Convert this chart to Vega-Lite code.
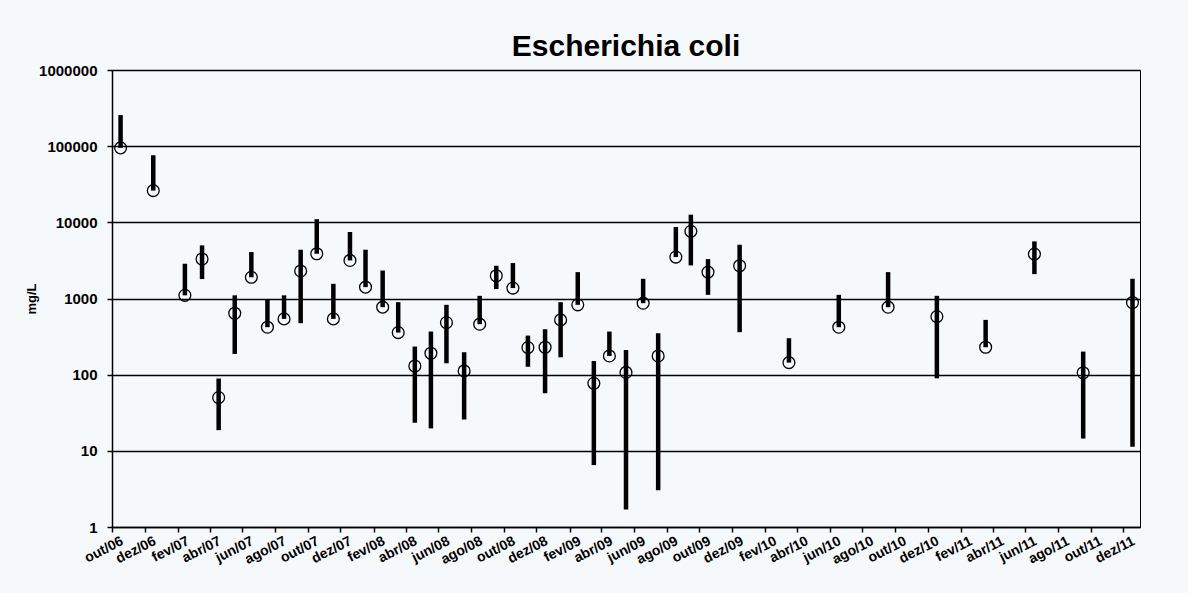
{
  "$schema": "https://vega.github.io/schema/vega-lite/v6.json",
  "autosize": {"type": "none"},
  "padding": {"left": 112, "top": 70, "right": 48, "bottom": 66},
  "width": 1028,
  "height": 457,
  "background": "#f6f9fc",
  "title": {
    "text": "Escherichia coli",
    "font": "Liberation Sans",
    "fontSize": 30,
    "fontWeight": "bold",
    "color": "black",
    "anchor": "middle",
    "offset": 1
  },
  "data": {
    "values": [
      {"date": "2006-10-17", "lo": 95000, "mid": 95000, "hi": 256000},
      {"date": "2006-12-17", "lo": 26100, "mid": 26100, "hi": 76000},
      {"date": "2007-02-14", "lo": 1100, "mid": 1100, "hi": 2860},
      {"date": "2007-03-18", "lo": 1800, "mid": 3300, "hi": 4980},
      {"date": "2007-04-18", "lo": 18.7, "mid": 50, "hi": 89},
      {"date": "2007-05-18", "lo": 187, "mid": 640, "hi": 1100},
      {"date": "2007-06-18", "lo": 1900, "mid": 1900, "hi": 4070},
      {"date": "2007-07-18", "lo": 420, "mid": 420, "hi": 960},
      {"date": "2007-08-18", "lo": 540, "mid": 540, "hi": 1100},
      {"date": "2007-09-18", "lo": 474, "mid": 2300, "hi": 4370},
      {"date": "2007-10-18", "lo": 3870, "mid": 3870, "hi": 11000},
      {"date": "2007-11-18", "lo": 540, "mid": 540, "hi": 1560},
      {"date": "2007-12-19", "lo": 3160, "mid": 3160, "hi": 7460},
      {"date": "2008-01-17", "lo": 1410, "mid": 1410, "hi": 4370},
      {"date": "2008-02-18", "lo": 770, "mid": 770, "hi": 2330},
      {"date": "2008-03-18", "lo": 357, "mid": 357, "hi": 895},
      {"date": "2008-04-18", "lo": 23.4, "mid": 130, "hi": 234},
      {"date": "2008-05-18", "lo": 19.7, "mid": 191, "hi": 368},
      {"date": "2008-06-16", "lo": 141, "mid": 483, "hi": 826},
      {"date": "2008-07-19", "lo": 25.8, "mid": 112, "hi": 197},
      {"date": "2008-08-17", "lo": 460, "mid": 460, "hi": 1084},
      {"date": "2008-09-17", "lo": 1330, "mid": 1990, "hi": 2690},
      {"date": "2008-10-18", "lo": 1370, "mid": 1370, "hi": 2920},
      {"date": "2008-11-15", "lo": 127, "mid": 227, "hi": 326},
      {"date": "2008-12-17", "lo": 57, "mid": 229, "hi": 395},
      {"date": "2009-01-15", "lo": 169, "mid": 524, "hi": 895},
      {"date": "2009-02-16", "lo": 826, "mid": 826, "hi": 2220},
      {"date": "2009-03-18", "lo": 6.5, "mid": 77, "hi": 151},
      {"date": "2009-04-16", "lo": 176, "mid": 176, "hi": 368},
      {"date": "2009-05-17", "lo": 1.7, "mid": 107, "hi": 211},
      {"date": "2009-06-18", "lo": 868, "mid": 868, "hi": 1815},
      {"date": "2009-07-16", "lo": 3.04, "mid": 176, "hi": 350},
      {"date": "2009-08-18", "lo": 3500, "mid": 3500, "hi": 8690},
      {"date": "2009-09-15", "lo": 2720, "mid": 7620, "hi": 12600},
      {"date": "2009-10-17", "lo": 1117, "mid": 2220, "hi": 3290},
      {"date": "2009-12-15", "lo": 361, "mid": 2690, "hi": 5080},
      {"date": "2010-03-17", "lo": 144, "mid": 144, "hi": 301},
      {"date": "2010-06-18", "lo": 420, "mid": 420, "hi": 1117},
      {"date": "2010-09-18", "lo": 769, "mid": 769, "hi": 2220},
      {"date": "2010-12-18", "lo": 89.5, "mid": 580, "hi": 1084},
      {"date": "2011-03-19", "lo": 229, "mid": 229, "hi": 524},
      {"date": "2011-06-18", "lo": 2090, "mid": 3830, "hi": 5620},
      {"date": "2011-09-17", "lo": 14.5, "mid": 106, "hi": 201},
      {"date": "2011-12-18", "lo": 11.3, "mid": 886, "hi": 1815}
    ]
  },
  "encoding": {
    "x": {
      "field": "date",
      "type": "temporal",
      "scale": {
        "type": "utc",
        "domain": [
          {"year": 2006, "month": 10, "date": 1, "utc": true},
          {"year": 2012, "month": 1, "date": 1, "utc": true}
        ],
        "nice": false
      },
      "axis": {
        "title": null,
        "grid": false,
        "values": [
          {"year": 2006, "month": 10, "date": 1, "utc": true},
          {"year": 2006, "month": 12, "date": 1, "utc": true},
          {"year": 2007, "month": 2, "date": 1, "utc": true},
          {"year": 2007, "month": 4, "date": 1, "utc": true},
          {"year": 2007, "month": 6, "date": 1, "utc": true},
          {"year": 2007, "month": 8, "date": 1, "utc": true},
          {"year": 2007, "month": 10, "date": 1, "utc": true},
          {"year": 2007, "month": 12, "date": 1, "utc": true},
          {"year": 2008, "month": 2, "date": 1, "utc": true},
          {"year": 2008, "month": 4, "date": 1, "utc": true},
          {"year": 2008, "month": 6, "date": 1, "utc": true},
          {"year": 2008, "month": 8, "date": 1, "utc": true},
          {"year": 2008, "month": 10, "date": 1, "utc": true},
          {"year": 2008, "month": 12, "date": 1, "utc": true},
          {"year": 2009, "month": 2, "date": 1, "utc": true},
          {"year": 2009, "month": 4, "date": 1, "utc": true},
          {"year": 2009, "month": 6, "date": 1, "utc": true},
          {"year": 2009, "month": 8, "date": 1, "utc": true},
          {"year": 2009, "month": 10, "date": 1, "utc": true},
          {"year": 2009, "month": 12, "date": 1, "utc": true},
          {"year": 2010, "month": 2, "date": 1, "utc": true},
          {"year": 2010, "month": 4, "date": 1, "utc": true},
          {"year": 2010, "month": 6, "date": 1, "utc": true},
          {"year": 2010, "month": 8, "date": 1, "utc": true},
          {"year": 2010, "month": 10, "date": 1, "utc": true},
          {"year": 2010, "month": 12, "date": 1, "utc": true},
          {"year": 2011, "month": 2, "date": 1, "utc": true},
          {"year": 2011, "month": 4, "date": 1, "utc": true},
          {"year": 2011, "month": 6, "date": 1, "utc": true},
          {"year": 2011, "month": 8, "date": 1, "utc": true},
          {"year": 2011, "month": 10, "date": 1, "utc": true},
          {"year": 2011, "month": 12, "date": 1, "utc": true}
        ],
        "labelExpr": "['jan','fev','mar','abr','mai','jun','jul','ago','set','out','nov','dez'][utcmonth(datum.value)] + '/' + utcFormat(datum.value, '%y')",
        "labelAngle": -27,
        "labelAlign": "right",
        "labelBaseline": "middle",
        "labelOffset": 10,
        "labelPadding": 8,
        "labelFont": "Liberation Sans",
        "labelFontSize": 14,
        "labelFontWeight": "bold",
        "labelColor": "black",
        "labelOverlap": false,
        "domainColor": "black",
        "domainWidth": 1.5,
        "tickColor": "black",
        "tickWidth": 1.5,
        "tickSize": 5
      }
    }
  },
  "layer": [
    {
      "mark": {"type": "rule", "strokeWidth": 4.5, "color": "black", "strokeCap": "butt"},
      "encoding": {
        "y": {
          "field": "lo",
          "type": "quantitative",
          "scale": {"type": "log", "domain": [1, 1000000], "nice": false},
          "axis": {
            "title": "mg/L",
            "titleFont": "Liberation Sans",
            "titleFontSize": 13,
            "titleFontWeight": "bold",
            "titleColor": "black",
            "titlePadding": 0,
            "values": [1, 10, 100, 1000, 10000, 100000, 1000000],
            "format": "d",
            "labelFont": "Liberation Sans",
            "labelFontSize": 15,
            "labelFontWeight": "bold",
            "labelColor": "black",
            "labelPadding": 10,
            "grid": true,
            "gridColor": "black",
            "gridWidth": 1.5,
            "gridOpacity": 1,
            "domainColor": "black",
            "domainWidth": 1.5,
            "tickColor": "black",
            "tickWidth": 1.5,
            "tickSize": 5
          }
        },
        "y2": {"field": "hi"}
      }
    },
    {
      "mark": {"type": "point", "shape": "circle", "filled": false, "size": 140, "stroke": "black", "strokeWidth": 1.3, "opacity": 1},
      "encoding": {
        "y": {"field": "mid", "type": "quantitative"}
      }
    }
  ],
  "config": {
    "view": {"stroke": "black", "strokeWidth": 1}
  }
}
